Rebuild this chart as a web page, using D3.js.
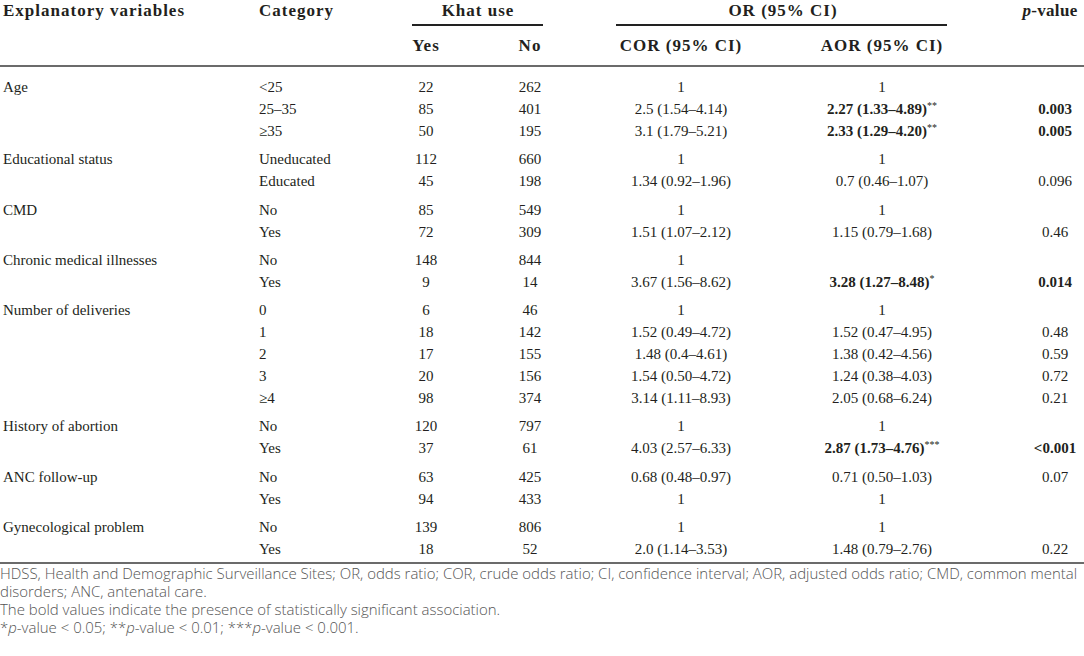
<!DOCTYPE html>
<html lang="en">
<head>
<meta charset="UTF-8">
<title>Khat use table</title>
<script src="https://cdn.jsdelivr.net/npm/d3@7"></script>
<style>
  body { margin: 0; background: #fff; }
</style>
</head>
<body>
<script>
  var w = 1084, h = 656;

  // table data
  var groups = ['Age', 'Educational status', 'CMD', 'Chronic medical illnesses', 'Number of deliveries',
    'History of abortion', 'ANC follow-up', 'Gynecological problem'];
  var groupOf = [0, 0, 0, 1, 1, 2, 2, 3, 3, 4, 4, 4, 4, 4, 5, 5, 6, 6, 7, 7];
  var categories = ['<25', '25–35', '≥35', 'Uneducated', 'Educated', 'No', 'Yes', 'No', 'Yes',
    '0', '1', '2', '3', '≥4', 'No', 'Yes', 'No', 'Yes', 'No', 'Yes'];
  var khatYes = [22, 85, 50, 112, 45, 85, 72, 148, 9, 6, 18, 17, 20, 98, 120, 37, 63, 94, 139, 18];
  var khatNo = [262, 401, 195, 660, 198, 549, 309, 844, 14, 46, 142, 155, 156, 374, 797, 61, 425, 433, 806, 52];
  var cor = ['1', '2.5 (1.54–4.14)', '3.1 (1.79–5.21)', '1', '1.34 (0.92–1.96)', '1', '1.51 (1.07–2.12)',
    '1', '3.67 (1.56–8.62)', '1', '1.52 (0.49–4.72)', '1.48 (0.4–4.61)', '1.54 (0.50–4.72)', '3.14 (1.11–8.93)',
    '1', '4.03 (2.57–6.33)', '0.68 (0.48–0.97)', '1', '1', '2.0 (1.14–3.53)'];
  var aor = ['1', '2.27 (1.33–4.89)', '2.33 (1.29–4.20)', '1', '0.7 (0.46–1.07)', '1', '1.15 (0.79–1.68)',
    '', '3.28 (1.27–8.48)', '1', '1.52 (0.47–4.95)', '1.38 (0.42–4.56)', '1.24 (0.38–4.03)', '2.05 (0.68–6.24)',
    '1', '2.87 (1.73–4.76)', '0.71 (0.50–1.03)', '1', '1', '1.48 (0.79–2.76)'];
  var aorStars = ['', '**', '**', '', '', '', '', '', '*', '', '', '', '', '', '', '***', '', '', '', ''];
  var pValues = ['', '0.003', '0.005', '', '0.096', '', '0.46', '', '0.014', '', '0.48', '0.59', '0.72', '0.21',
    '', '<0.001', '0.07', '', '', '0.22'];
  var boldRows = [1, 2, 8, 15];
  var footnotes = [
    'HDSS, Health and Demographic Surveillance Sites; OR, odds ratio; COR, crude odds ratio; CI, confidence interval; AOR, adjusted odds ratio; CMD, common mental',
    'disorders; ANC, antenatal care.',
    'The bold values indicate the presence of statistically significant association.'
  ];

  var serif = "'Liberation Serif', 'Times New Roman', serif";
  var ink = '#231f20';

  // column centres / left edges
  var colX = { variable: 3, category: 259, yes: 426, no: 530, cor: 681, aor: 882, p: 1055 };

  // vertical slots: rows plus a small gap before each new group
  var gapRatio = 0.3;
  var slot = categories.map(function (d, i) { return i + groupOf[i] * gapRatio });
  var yScale = d3.scaleLinear().domain([0, d3.max(slot)]).range([87, 549]);

  var svg = d3.select('body').append('svg').attr('width', w).attr('height', h)
  svg.append('rect').attr('width', w).attr('height', h).attr('fill', '#fff')

  //表头
  var head = svg.append('g').attr('font-family', serif).attr('font-weight', 'bold')
    .attr('font-size', '17px').attr('fill', ink).attr('letter-spacing', '1px')
  var headCells = [
    { t: 'Explanatory variables', x: colX.variable, y: 16, a: 'start' },
    { t: 'Category', x: colX.category, y: 16, a: 'start' },
    { t: 'Khat use', x: (colX.yes + colX.no) / 2, y: 16, a: 'middle' },
    { t: 'OR (95% CI)', x: 783, y: 16, a: 'middle' },
    { t: 'Yes', x: colX.yes, y: 51, a: 'middle' },
    { t: 'No', x: colX.no, y: 51, a: 'middle' },
    { t: 'COR (95% CI)', x: colX.cor, y: 51, a: 'middle' },
    { t: 'AOR (95% CI)', x: colX.aor, y: 51, a: 'middle' }
  ]
  head.selectAll('text.h').data(headCells).enter().append('text').attr('class', 'h')
    .attr('x', function (d) { return d.x }).attr('y', function (d) { return d.y })
    .attr('text-anchor', function (d) { return d.a }).text(function (d) { return d.t })
  var pHead = head.append('text').attr('x', 1050).attr('y', 16).attr('text-anchor', 'middle')
    .attr('letter-spacing', '0.3px')
  pHead.append('tspan').attr('font-style', 'italic').text('p')
  pHead.append('tspan').text('-value')

  // rules
  svg.append('line').attr('x1', 412).attr('x2', 543).attr('y1', 25).attr('y2', 25)
    .attr('stroke', '#222').attr('stroke-width', 1.8)
  svg.append('line').attr('x1', 616).attr('x2', 947).attr('y1', 25).attr('y2', 25)
    .attr('stroke', '#222').attr('stroke-width', 1.8)
  svg.append('line').attr('x1', 0).attr('x2', w).attr('y1', 66).attr('y2', 66)
    .attr('stroke', '#6b6b6b').attr('stroke-width', 2)
  svg.append('line').attr('x1', 0).attr('x2', w).attr('y1', 563).attr('y2', 563)
    .attr('stroke', '#6b6b6b').attr('stroke-width', 2)

  //表体
  var body = svg.append('g').attr('font-family', serif).attr('font-size', '15px').attr('fill', ink)
  var rows = body.selectAll('g.row').data(categories).enter().append('g').attr('class', 'row')
    .attr('transform', function (d, i) { return 'translate(0,' + (yScale(slot[i]) + 5) + ')' })

  rows.each(function (d, i) {
    var g = d3.select(this)
    if (i === 0 || groupOf[i] !== groupOf[i - 1]) g.append('text').attr('x', colX.variable).text(groups[groupOf[i]])
    g.append('text').attr('x', colX.category).text(d)
    g.append('text').attr('x', colX.yes).attr('text-anchor', 'middle').text(khatYes[i])
    g.append('text').attr('x', colX.no).attr('text-anchor', 'middle').text(khatNo[i])
    g.append('text').attr('x', colX.cor).attr('text-anchor', 'middle').text(cor[i])
    var bold = boldRows.indexOf(i) >= 0
    var a = g.append('text').attr('x', colX.aor).attr('text-anchor', 'middle')
    a.append('tspan').attr('font-weight', bold ? 'bold' : 'normal').text(aor[i])
    if (aorStars[i]) a.append('tspan').attr('font-size', '10px').attr('dy', -5).text(aorStars[i])
    g.append('text').attr('x', colX.p).attr('text-anchor', 'middle')
      .attr('font-weight', bold ? 'bold' : 'normal').text(pValues[i])
  })

  //脚注
  var notes = svg.append('g').attr('font-family', "'Open Sans', sans-serif").attr('font-size', '13px')
    .attr('font-weight', 300).attr('fill', '#555')
  var noteY = [579, 597, 615, 633]
  notes.selectAll('text.n').data(footnotes).enter().append('text').attr('class', 'n')
    .attr('x', 0).attr('y', function (d, i) { return noteY[i] }).text(function (d) { return d })
  var sig = notes.append('text').attr('x', 0).attr('y', noteY[3])
  var sigParts = [['*', 0], ['p', 1], ['-value < 0.05; **', 0], ['p', 1], ['-value < 0.01; ***', 0], ['p', 1], ['-value < 0.001.', 0]]
  sigParts.forEach(function (s) {
    sig.append('tspan').attr('font-style', s[1] ? 'italic' : 'normal').text(s[0])
  })
  // first note line runs right across the page in the original
  var firstLen = notes.select('text.n').node().getComputedTextLength()
  notes.attr('font-size', (13 * 1078 / firstLen).toFixed(2) + 'px')
</script>
</body>
</html>
